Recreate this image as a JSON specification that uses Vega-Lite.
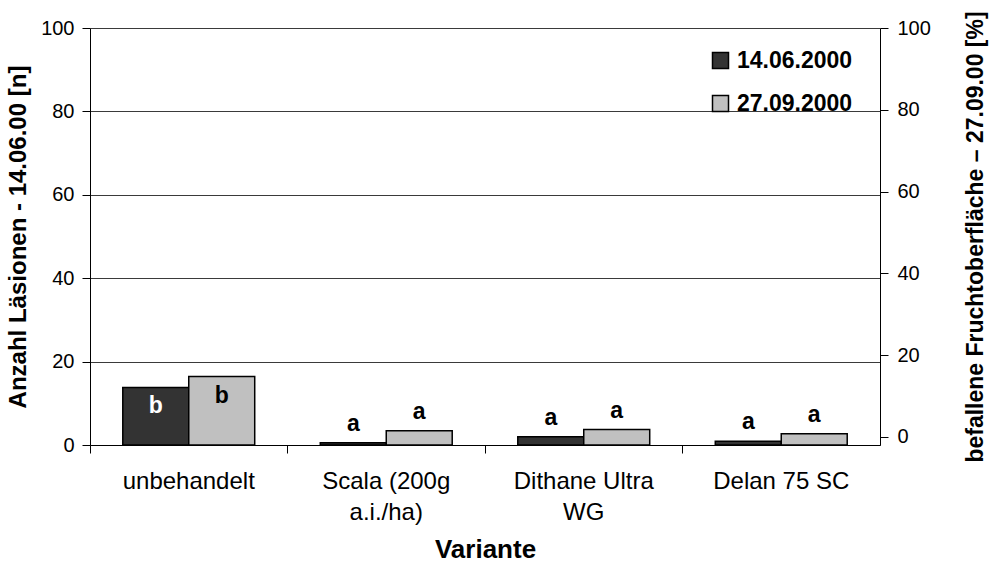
{
  "$schema": "https://vega.github.io/schema/vega-lite/v6.json",
  "width": 790,
  "height": 417,
  "autosize": {"type": "none"},
  "padding": {"left": 90, "top": 28, "right": 112, "bottom": 123},
  "background": "white",
  "config": {
    "font": "Liberation Sans",
    "view": {"stroke": null},
    "axis": {"labelColor": "black", "titleColor": "black", "domainColor": "black", "tickColor": "black"}
  },
  "data": {
    "values": [
      {"Variante": "unbehandelt", "Termin": "14.06.2000", "Wert": 13.8, "Buchstabe": "b"},
      {"Variante": "unbehandelt", "Termin": "27.09.2000", "Wert": 16.4, "Buchstabe": "b"},
      {"Variante": "Scala (200g a.i./ha)", "Termin": "14.06.2000", "Wert": 0.55, "Buchstabe": "a"},
      {"Variante": "Scala (200g a.i./ha)", "Termin": "27.09.2000", "Wert": 3.4, "Buchstabe": "a"},
      {"Variante": "Dithane Ultra WG", "Termin": "14.06.2000", "Wert": 2.0, "Buchstabe": "a"},
      {"Variante": "Dithane Ultra WG", "Termin": "27.09.2000", "Wert": 3.7, "Buchstabe": "a"},
      {"Variante": "Delan 75 SC", "Termin": "14.06.2000", "Wert": 0.9, "Buchstabe": "a"},
      {"Variante": "Delan 75 SC", "Termin": "27.09.2000", "Wert": 2.7, "Buchstabe": "a"}
    ]
  },
  "layer": [
    {
      "encoding": {
        "x": {
          "field": "Variante",
          "type": "nominal",
          "sort": ["unbehandelt", "Scala (200g a.i./ha)", "Dithane Ultra WG", "Delan 75 SC"],
          "scale": {"paddingInner": 0.332, "paddingOuter": 0.166},
          "axis": {
            "title": "Variante",
            "titleFontSize": 26,
            "titleFontWeight": "bold",
            "titlePadding": 12,
            "labelAngle": 0,
            "labelFontSize": 24,
            "labelLineHeight": 31,
            "labelPadding": 16,
            "labelBaseline": "top",
            "bandPosition": -0.248,
            "tickSize": 8,
            "tickColor": "black",
            "domainColor": "black",
            "labelExpr": "datum.label == 'Scala (200g a.i./ha)' ? ['Scala (200g', 'a.i./ha)'] : datum.label == 'Dithane Ultra WG' ? ['Dithane Ultra', 'WG'] : datum.label"
          }
        },
        "xOffset": {"field": "Termin", "type": "nominal", "scale": {"paddingInner": 0, "paddingOuter": 0}},
        "y": {
          "field": "Wert",
          "type": "quantitative",
          "scale": {"domain": [0, 100], "nice": false},
          "axis": {
            "values": [0, 20, 40, 60, 80, 100],
            "title": "Anzahl Läsionen - 14.06.00 [n]",
            "titleFontSize": 24,
            "titleFontWeight": "bold",
            "titleAngle": -90,
            "titleX": -72,
            "titleY": 208.5,
            "titleAlign": "center",
            "titleBaseline": "middle",
            "labelFontSize": 20,
            "labelPadding": 8,
            "tickSize": 8,
            "grid": true,
            "gridColor": "#3a3a3a",
            "gridWidth": 1
          }
        }
      },
      "layer": [
        {
          "mark": {"type": "bar", "stroke": "black", "strokeWidth": 1.5},
          "encoding": {
            "color": {
              "field": "Termin",
              "type": "nominal",
              "scale": {"domain": ["14.06.2000", "27.09.2000"], "range": ["#333333", "#c0c0c0"]},
              "legend": {
                "title": null,
                "orient": "none",
                "legendX": 619,
                "legendY": 21,
                "padding": 0,
                "symbolType": "square",
                "symbolSize": 256,
                "symbolStrokeColor": "black",
                "symbolStrokeWidth": 1.5,
                "labelFontSize": 23,
                "labelFontWeight": "bold",
                "labelColor": "black",
                "labelOffset": 5,
                "rowPadding": 19
              }
            }
          }
        },
        {
          "transform": [{"filter": "datum.Variante == 'unbehandelt'"}],
          "mark": {"type": "text", "fontSize": 23, "fontWeight": "bold", "baseline": "middle", "dy": 19},
          "encoding": {
            "text": {"field": "Buchstabe"},
            "color": {"condition": {"test": "datum.Termin == '14.06.2000'", "value": "white"}, "value": "black"}
          }
        },
        {
          "transform": [{"filter": "datum.Variante != 'unbehandelt'"}],
          "mark": {"type": "text", "fontSize": 23, "fontWeight": "bold", "baseline": "middle", "dy": -19, "color": "black"},
          "encoding": {
            "text": {"field": "Buchstabe"}
          }
        }
      ]
    },
    {
      "data": {"values": [{"r": 0}, {"r": 100}]},
      "mark": {"type": "tick", "opacity": 0},
      "encoding": {
        "y": {
          "field": "r",
          "type": "quantitative",
          "scale": {"domain": [-2, 100], "nice": false},
          "axis": {
            "orient": "right",
            "values": [0, 20, 40, 60, 80, 100],
            "title": "befallene Fruchtoberfläche – 27.09.00 [%]",
            "titleFontSize": 23,
            "titleFontWeight": "bold",
            "titleAngle": -90,
            "titleX": 95,
            "titleY": 208.5,
            "titleAlign": "center",
            "titleBaseline": "middle",
            "labelFontSize": 20,
            "labelPadding": 9,
            "tickSize": 8,
            "grid": false
          }
        }
      }
    }
  ],
  "resolve": {"scale": {"y": "independent"}}
}
